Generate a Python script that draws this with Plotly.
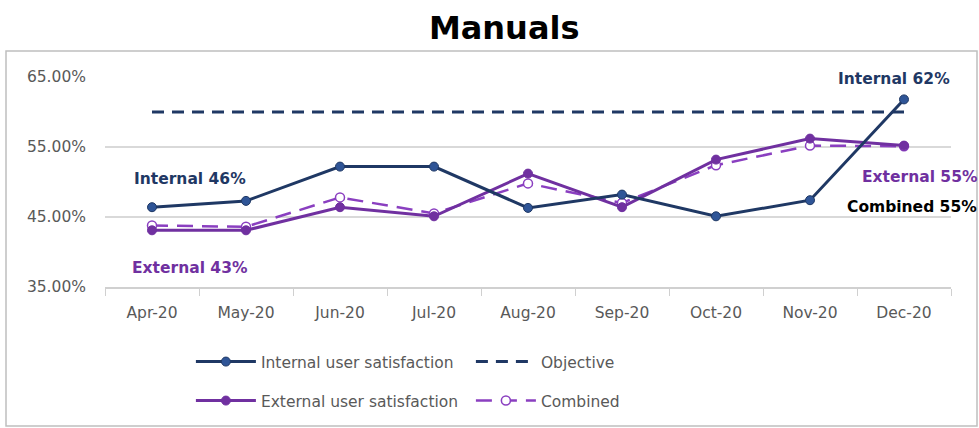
import plotly.graph_objects as go

months = ["Apr-20", "May-20", "Jun-20", "Jul-20", "Aug-20", "Sep-20", "Oct-20", "Nov-20", "Dec-20"]
internal = [46.4, 47.3, 52.2, 52.2, 46.3, 48.2, 45.1, 47.4, 61.8]
external = [43.1, 43.1, 46.4, 45.1, 51.2, 46.4, 53.2, 56.2, 55.2]
combined = [43.8, 43.6, 47.8, 45.5, 49.8, 47.0, 52.4, 55.2, 55.1]
objective = [60, 60, 60, 60, 60, 60, 60, 60, 60]
y_ticks = [35, 45, 55, 65]
y_tick_labels = ["35.00%", "45.00%", "55.00%", "65.00%"]

NAVY = "#1f3864"
BLUE = "#2f5597"
PURPLE = "#7030a0"
FONT = "DejaVu Sans"

fig = go.Figure()
fig.add_trace(go.Scatter(
    x=months, y=objective, name="Objective", mode="lines",
    line=dict(color=NAVY, width=3, dash="12px,8px"), legend="legend"))
fig.add_trace(go.Scatter(
    x=months, y=combined, name="Combined", mode="lines+markers",
    line=dict(color="#8a3fc0", width=2.5, dash="16px,9px"),
    marker=dict(symbol="circle", size=9, color="white", line=dict(color="#8a3fc0", width=1.5)),
    legend="legend2"))
fig.add_trace(go.Scatter(
    x=months, y=external, name="External user satisfaction", mode="lines+markers",
    line=dict(color=PURPLE, width=3),
    marker=dict(symbol="circle", size=9, color=PURPLE, line=dict(color=PURPLE, width=1)),
    legend="legend2"))
fig.add_trace(go.Scatter(
    x=months, y=internal, name="Internal user satisfaction", mode="lines+markers",
    line=dict(color=NAVY, width=3),
    marker=dict(symbol="circle", size=9, color=BLUE, line=dict(color=NAVY, width=1)),
    legend="legend"))

annots = [
    dict(x=months[0], y=internal[0], text="<b>Internal 46%</b>", xshift=38, yshift=28, color=NAVY),
    dict(x=months[0], y=external[0], text="<b>External 43%</b>", xshift=38, yshift=-38, color=PURPLE),
    dict(x=months[-1], y=internal[-1], text="<b>Internal 62%</b>", xshift=-10, yshift=20, color=NAVY),
    dict(x=months[-1], y=external[-1], text="<b>External 55%</b>", xshift=16, yshift=-31, color=PURPLE),
    dict(x=months[-1], y=combined[-1], text="<b>Combined 55%</b>", xshift=8, yshift=-61, color="#000000"),
]
for a in annots:
    fig.add_annotation(x=a["x"], y=a["y"], text=a["text"], xshift=a["xshift"], yshift=a["yshift"],
                       showarrow=False, font=dict(family=FONT, size=15.5, color=a["color"]),
                       xanchor="center", yanchor="middle")

# outer frame
fig.add_shape(type="rect", xref="paper", yref="paper",
              x0=(6 - 105) / 846, x1=(977 - 105) / 846,
              y0=(287 - 426) / 210, y1=(287 - 51) / 210,
              line=dict(color="#bfbfbf", width=1.5), layer="below")

fig.update_layout(
    width=979, height=428,
    margin=dict(l=105, r=28, t=77, b=141),
    paper_bgcolor="white", plot_bgcolor="white",
    font=dict(family=FONT, color="#595959"),
    title=dict(text="<b>Manuals</b>", x=0.515, xanchor="center", y=1 - 28 / 428, yanchor="middle",
               font=dict(family=FONT, size=32, color="#000000")),
    xaxis=dict(type="category", categoryorder="array", categoryarray=months,
               range=[-0.5, len(months) - 0.5],
               showline=True, linecolor="#d0d0d0", linewidth=1.5,
               ticks="outside", tickson="boundaries", ticklen=7, tickcolor="#d0d0d0",
               showgrid=False, tickfont=dict(family=FONT, size=15.5, color="#595959"),
               ticklabelstandoff=11),
    yaxis=dict(range=[35, 65], tickvals=y_ticks, ticktext=y_tick_labels,
               showgrid=True, gridcolor="#d9d9d9", gridwidth=1.5, zeroline=False,
               showline=False, tickfont=dict(family=FONT, size=15.5, color="#595959"),
               ticklabelstandoff=18),
    showlegend=True,
    legend=dict(orientation="h", xref="container", yref="container", x=0.195, y=1 - 362 / 428,
                xanchor="left", yanchor="middle", itemwidth=60, entrywidth=205,
                font=dict(family=FONT, size=15.5, color="#595959"), traceorder="reversed",
                bgcolor="rgba(0,0,0,0)"),
    legend2=dict(orientation="h", xref="container", yref="container", x=0.195, y=1 - 401 / 428,
                 xanchor="left", yanchor="middle", itemwidth=60, entrywidth=205,
                 font=dict(family=FONT, size=15.5, color="#595959"), traceorder="reversed",
                 bgcolor="rgba(0,0,0,0)"),
)

fig.write_html("out.html")
